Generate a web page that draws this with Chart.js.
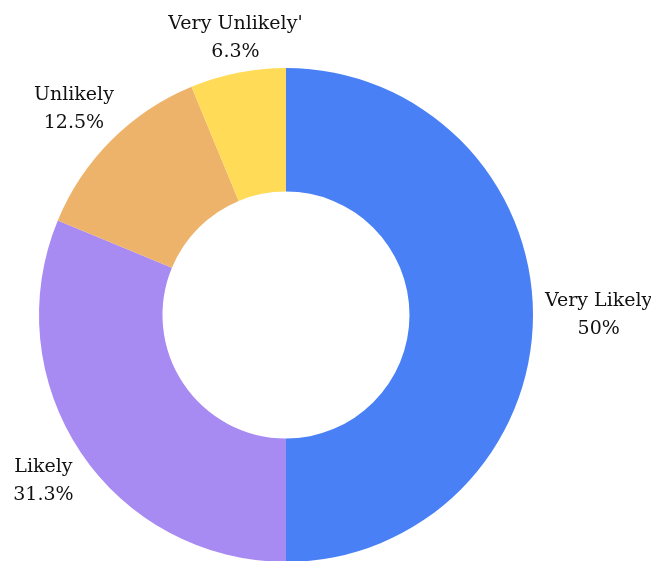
<!DOCTYPE html>
<html>
<head>
<meta charset="utf-8">
<script src="https://cdn.jsdelivr.net/npm/chart.js@4/dist/chart.umd.min.js"></script>
<style>
  html, body { margin: 0; padding: 0; background: #fff; overflow: hidden; }
  #wrap { position: relative; width: 651px; height: 562px; }
</style>
</head>
<body>
<div id="wrap"><canvas id="likelihoodChart"></canvas></div>
<script>
const categories = ['Very Likely', 'Likely', 'Unlikely', "Very Unlikely'"];
const responses = [8, 5, 2, 1];
const sliceColors = ['#4A80F5', '#A88BF2', '#EEB36A', '#FFDB57'];

const LABEL_FONT = '19px "DejaVu Serif", serif';
const LINE_HEIGHT = 28;

// draws "name / percent" blocks just outside each slice
const outsideLabels = {
    id: 'outsideLabels',
    afterDraw(chart) {
        const ctx = chart.ctx;
        const meta = chart.getDatasetMeta(0);
        const data = chart.data.datasets[0].data;
        const total = data.reduce((a, b) => a + b, 0);
        ctx.save();
        ctx.font = LABEL_FONT;
        ctx.fillStyle = '#111';
        ctx.textBaseline = 'middle';
        ctx.textAlign = 'center';
        meta.data.forEach((arc, i) => {
            const p = arc.getProps(['x', 'y', 'startAngle', 'endAngle', 'outerRadius'], true);
            const mid = (p.startAngle + p.endAngle) / 2;
            const r = p.outerRadius + 12;
            const ax = p.x + Math.cos(mid) * r;
            const ay = p.y + Math.sin(mid) * r;
            const pct = data[i] * 100 / total;
            const lines = [chart.data.labels[i], (Math.round(pct * 10) / 10) + '%'];
            const w = Math.max(...lines.map(t => ctx.measureText(t).width));
            const h = lines.length * LINE_HEIGHT;
            const c = Math.cos(mid), s = Math.sin(mid);
            // slide the block from centred (near vertical) to fully beside the anchor
            const fx = Math.sign(c) * Math.min(1, Math.max(0, (Math.abs(c) - 0.2) / 0.7));
            const cx = ax + fx * w / 2;
            const top = s > 0.3 ? ay - 6 : s < -0.3 ? ay - h + 5 : ay - h / 2;
            lines.forEach((t, k) => {
                ctx.fillText(t, cx, top + LINE_HEIGHT * (k + 0.5));
            });
        });
        ctx.restore();
    }
};

new Chart(document.getElementById('likelihoodChart'), {
    type: 'doughnut',
    data: {
        labels: categories,
        datasets: [{
            data: responses,
            backgroundColor: sliceColors,
            borderWidth: 0,
            hoverOffset: 0
        }]
    },
    plugins: [outsideLabels],
    options: {
        responsive: true,
        maintainAspectRatio: false,
        animation: false,
        cutout: '50%',
        layout: {
            padding: { left: 39, right: 118, top: 68, bottom: 0 }
        },
        plugins: {
            legend: { display: false },
            tooltip: { enabled: false }
        }
    }
});
</script>
</body>
</html>
